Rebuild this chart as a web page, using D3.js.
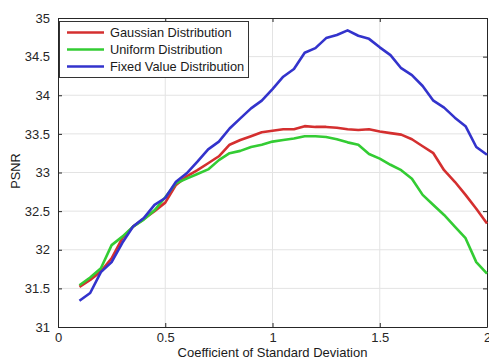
<!DOCTYPE html>
<html><head><meta charset="utf-8">
<script src="https://cdn.jsdelivr.net/npm/d3@7"></script>
<style>html,body{margin:0;padding:0;background:#fff;}svg{display:block;}</style>
</head><body>
<script>
const xValues = [0.1,0.15,0.2,0.25,0.3,0.35,0.4,0.45,0.5,0.55,0.6,0.65,0.7,0.75,0.8,0.85,0.9,0.95,1.0,1.05,1.1,1.15,1.2,1.25,1.3,1.35,1.4,1.45,1.5,1.55,1.6,1.65,1.7,1.75,1.8,1.85,1.9,1.95,2.0];
const gaussian = [31.52,31.61,31.72,31.89,32.15,32.30,32.40,32.50,32.61,32.84,32.95,33.03,33.12,33.21,33.36,33.42,33.47,33.52,33.54,33.56,33.56,33.60,33.59,33.59,33.58,33.56,33.55,33.56,33.53,33.51,33.49,33.43,33.34,33.25,33.03,32.88,32.71,32.53,32.34];
const uniform = [31.54,31.64,31.76,32.06,32.17,32.30,32.39,32.51,32.68,32.86,32.92,32.98,33.04,33.16,33.25,33.28,33.33,33.36,33.40,33.42,33.44,33.47,33.47,33.46,33.43,33.39,33.36,33.24,33.18,33.10,33.03,32.92,32.71,32.58,32.45,32.30,32.15,31.84,31.69];
const fixedValue = [31.34,31.44,31.71,31.84,32.09,32.30,32.41,32.58,32.67,32.88,32.99,33.14,33.30,33.40,33.57,33.70,33.83,33.93,34.08,34.24,34.34,34.55,34.61,34.74,34.78,34.84,34.77,34.73,34.62,34.52,34.35,34.26,34.12,33.93,33.84,33.71,33.60,33.33,33.23];
const seriesNames = ["Gaussian Distribution","Uniform Distribution","Fixed Value Distribution"];
const seriesColors = ["#d42f2f","#33cc33","#3333cc"];
const xTicks = [0,0.5,1,1.5,2];
const xTickLabels = ["0","0.5","1","1.5","2"];
const yTicks = [31,31.5,32,32.5,33,33.5,34,34.5,35];
const yTickLabels = ["31","31.5","32","32.5","33","33.5","34","34.5","35"];
const xLabel = "Coefficient of Standard Deviation";
const yLabel = "PSNR";

const W = 489, H = 359;
const m = {left:58, right:2, top:18, bottom:32};
const svg = d3.select("body").append("svg").attr("width",W).attr("height",H)
  .style("font-family","Arial, 'Liberation Sans', sans-serif");
const x = d3.scaleLinear().domain([0,2]).range([m.left, W-m.right]);
const y = d3.scaleLinear().domain([31,35]).range([H-m.bottom, m.top]);

// grid
const g = svg.append("g");
g.selectAll("line.gx").data(xTicks.slice(1,-1)).join("line")
  .attr("x1",d=>x(d)).attr("x2",d=>x(d)).attr("y1",y(31)).attr("y2",y(35))
  .attr("stroke","#e3e3e3").attr("stroke-width",1);
g.selectAll("line.gy").data(yTicks.slice(1,-1)).join("line")
  .attr("y1",d=>y(d)).attr("y2",d=>y(d)).attr("x1",x(0)).attr("x2",x(2))
  .attr("stroke","#e3e3e3").attr("stroke-width",1);

// axes
const tickColor = "#262626";
const xAxis = d3.axisBottom(x).tickValues(xTicks).tickFormat((d,i)=>xTickLabels[i]).tickSizeInner(-4).tickSizeOuter(0).tickPadding(6);
const yAxis = d3.axisLeft(y).tickValues(yTicks).tickFormat((d,i)=>yTickLabels[i]).tickSizeInner(-4).tickSizeOuter(0).tickPadding(8);
const xTop = d3.axisTop(x).tickValues(xTicks).tickFormat("").tickSizeInner(-4).tickSizeOuter(0);
const yRight = d3.axisRight(y).tickValues(yTicks).tickFormat("").tickSizeInner(-4).tickSizeOuter(0);
function style(sel){
  sel.selectAll("path").attr("stroke",tickColor);
  sel.selectAll("line").attr("stroke",tickColor);
  sel.selectAll("text").attr("fill","#262626").style("font-size","13px").style("font-family","Arial, 'Liberation Sans', sans-serif");
}
svg.append("g").attr("transform",`translate(0,${y(31)})`).call(xAxis).call(style);
svg.append("g").attr("transform",`translate(${x(0)},0)`).call(yAxis).call(style);
svg.append("g").attr("transform",`translate(0,${y(35)})`).call(xTop).call(style);
svg.append("g").attr("transform",`translate(${x(2)},0)`).call(yRight).call(style);

// lines
const data = [gaussian, uniform, fixedValue];
const line = d3.line().x((d,i)=>x(xValues[i])).y(d=>y(d));
svg.append("g").selectAll("path").data(data).join("path")
  .attr("d",line).attr("fill","none")
  .attr("stroke",(d,i)=>seriesColors[i]).attr("stroke-width",2.6)
  .attr("stroke-linejoin","round");

// legend
const lg = svg.append("g");
lg.append("rect").attr("x",59.5).attr("y",21.5).attr("width",189).attr("height",56)
  .attr("fill","#fff").attr("stroke","#333").attr("stroke-width",1);
seriesNames.forEach((n,i)=>{
  const yy = 32.5 + i*17;
  lg.append("line").attr("x1",67).attr("x2",104).attr("y1",yy).attr("y2",yy)
    .attr("stroke",seriesColors[i]).attr("stroke-width",2.6);
  lg.append("text").attr("x",110).attr("y",yy).attr("dy","0.35em")
    .attr("fill","#1a1a1a").style("font-size","12.8px").text(n);
});

// labels
svg.append("text").attr("x",x(1)).attr("y",357).attr("text-anchor","middle")
  .attr("fill","#1a1a1a").style("font-size","13px").text(xLabel);
svg.append("text").attr("transform",`translate(20,${y(33.02)}) rotate(-90)`).attr("text-anchor","middle")
  .attr("fill","#1a1a1a").style("font-size","12.8px").text(yLabel);
</script>
</body></html>
